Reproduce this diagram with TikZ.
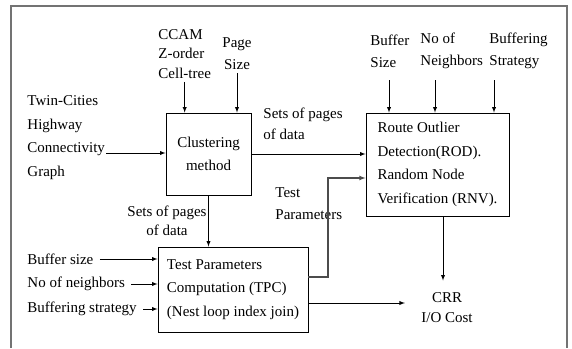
\documentclass[tikz,border=0pt]{standalone}
\usepackage{fontspec}
\setmainfont{Liberation Serif}
\usetikzlibrary{positioning}

\begin{document}
\begin{tikzpicture}[x=1pt,y=-1pt,line width=0.9pt,>=latex,
  every node/.style={font=\fontsize{15}{23.5}\selectfont},
  blk/.style={draw,inner sep=0pt},
  lbl/.style={inner sep=0pt,align=left}]
\useasboundingbox (0,0) rectangle (572,348);
\draw[black!55,line width=1.3pt] (11,348) -- (11,6) -- (567,6) -- (567,348);

\node[blk,align=center,minimum width=85pt,minimum height=82pt] (cm) at (208.5,154) {Clustering\\method};
\node[blk,align=left,minimum width=143pt,minimum height=103pt] (rod) at (437.5,164.5) {Route Outlier\\Detection(ROD).\\Random Node\\Verification (RNV).};
\node[blk,align=left,minimum width=150pt,minimum height=85pt] (tpc) at (233,289.5) {Test Parameters\\Computation (TPC)\\(Nest loop index join)};

\node[lbl,anchor=west] (tc) at (27,137.5) {Twin-Cities\\Highway\\Connectivity\\Graph};
\node[lbl,anchor=west,font=\fontsize{15}{19.5}\selectfont] (cc) at (158,54) {CCAM\\Z-order\\Cell-tree};
\node[lbl,align=center,font=\fontsize{15}{22}\selectfont] (ps) at (237,54) {Page\\Size};
\node[lbl,anchor=west,font=\fontsize{15}{22}\selectfont] (bsz) at (370,51) {Buffer\\Size};
\node[lbl,anchor=west,font=\fontsize{15}{22}\selectfont] (nn) at (420,51) {No of\\Neighbors};
\node[lbl,anchor=west,font=\fontsize{15}{22}\selectfont] (bst) at (489,51) {Buffering\\Strategy};
\node[lbl,anchor=west,font=\fontsize{15}{21}\selectfont] (sp1) at (263,124) {Sets of pages\\of data};
\node[lbl,anchor=west,font=\fontsize{15}{22}\selectfont] (tp) at (275,204) {Test\\Parameters};
\node[lbl,align=center,font=\fontsize{15}{18.5}\selectfont] (sp2) at (167,221) {Sets of pages\\of data};
\node[lbl,anchor=west] (bs) at (27,259) {Buffer size};
\node[lbl,anchor=west] (nb) at (27,284) {No of neighbors};
\node[lbl,anchor=west] (bf) at (27,309) {Buffering strategy};
\node[lbl,align=center,font=\fontsize{15}{20}\selectfont] (crr) at (447,308) {CRR\\I/O Cost};

\coordinate (cn) at (106,153);
\coordinate (bend) at (328,178);

\draw[->] (cn) -- (cn -| cm.west);
\draw[->,shorten <=3pt] (cc.south) -- (cc.south |- cm.north);
\draw[->,shorten <=3pt] (ps.south) -- (ps.south |- cm.north);
\foreach \x in {389,435,494}
  \draw[->] (\x,80) -- (rod.north -| \x,0);
\draw[->] (cm.east) -- (cm.east -| rod.west);
\draw[->] (cm.south) -- (cm.south |- tpc.north);
\foreach \n in {bs,nb,bf}
  \draw[->,shorten <=6pt] (\n.east) -- (\n.east -| tpc.west);
\draw[->,black!70,line width=1.1pt] ([yshift=12.5pt]tpc.east) -| (bend) -- (bend -| rod.west);
\draw[->,shorten >=16pt] ([yshift=-13.5pt]tpc.east) -- ([yshift=-13.5pt]tpc.east -| crr.west);
\draw[->,shorten >=12pt] ([xshift=5.5pt]rod.south) -- ([xshift=5.5pt]rod.south |- crr.north);
\end{tikzpicture}
\end{document}
